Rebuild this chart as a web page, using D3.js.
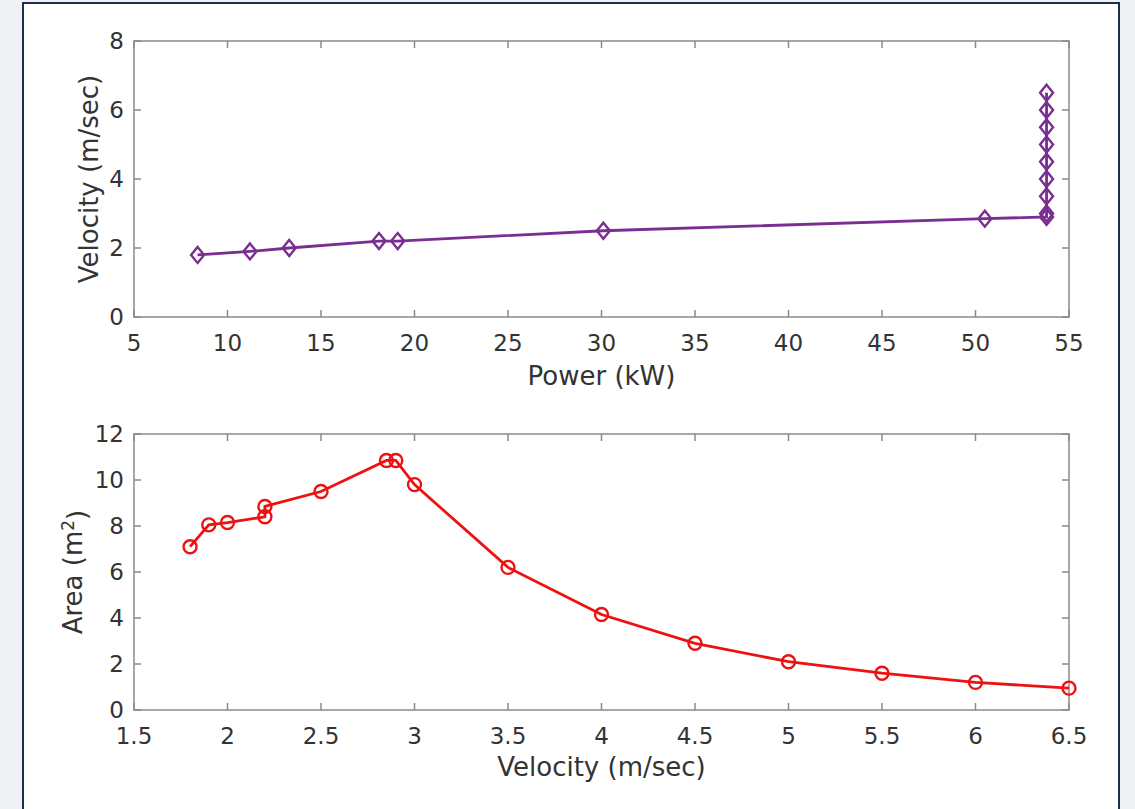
<!DOCTYPE html>
<html>
<head>
<meta charset="utf-8">
<title>power velocity area</title>
<script src="https://d3js.org/d3.v7.min.js"></script>
<style>
  body { margin: 0; background: #eff1f5; }
  #frame { position: absolute; left: 22px; top: 2px; width: 1098px; height: 820px;
           background: #fff; border: 2px solid #1c2e4e; box-sizing: border-box; }
  svg { position: absolute; left: 0; top: 0; }
  text { font-family: "DejaVu Sans", Verdana, sans-serif; fill: #333; }
</style>
</head>
<body>
<div id="frame"></div>
<div id="wrapper"></div>
<script>
// power (kW) vs velocity (m/sec)
const power = [8.4, 11.2, 13.3, 18.1, 19.1, 30.1, 50.5, 53.8, 53.8, 53.8, 53.8, 53.8, 53.8, 53.8, 53.8, 53.8];
const velocity = [1.8, 1.9, 2.0, 2.2, 2.2, 2.5, 2.85, 2.9, 3.0, 3.5, 4.0, 4.5, 5.0, 5.5, 6.0, 6.5];
const area = [7.1, 8.05, 8.15, 8.4, 8.85, 9.5, 10.85, 10.85, 9.8, 6.2, 4.15, 2.9, 2.1, 1.6, 1.2, 0.95];

const powerTicks = [5, 10, 15, 20, 25, 30, 35, 40, 45, 50, 55];
const velTicksTop = [0, 2, 4, 6, 8];
const velTicksBottom = [1.5, 2, 2.5, 3, 3.5, 4, 4.5, 5, 5.5, 6, 6.5];
const areaTicks = [0, 2, 4, 6, 8, 10, 12];

const width = 1135, height = 809;
const svg = d3.select("#wrapper").append("svg").attr("width", width).attr("height", height);

const left = 134, right = 1069;
const axisColor = "#8a8a8a";
const fontSize = 23;
const labelSize = 26;

function drawAxes(g, xScale, yScale, xTicks, yTicks, xFmt, yFmt) {
  const [x0, x1] = xScale.range();
  const [y0, y1] = yScale.range();
  const tl = 7;
  // box
  g.append("rect").attr("x", x0).attr("y", y1).attr("width", x1 - x0).attr("height", y0 - y1)
    .attr("fill", "none").attr("stroke", axisColor).attr("stroke-width", 1.5);
  xTicks.forEach(t => {
    const x = xScale(t);
    g.append("line").attr("x1", x).attr("x2", x).attr("y1", y0).attr("y2", y0 - tl).attr("stroke", axisColor).attr("stroke-width", 1.5);
    g.append("line").attr("x1", x).attr("x2", x).attr("y1", y1).attr("y2", y1 + tl).attr("stroke", axisColor).attr("stroke-width", 1.5);
    g.append("text").attr("x", x).attr("y", y0 + 34).attr("text-anchor", "middle")
      .style("font-size", fontSize + "px").text(xFmt(t));
  });
  yTicks.forEach(t => {
    const y = yScale(t);
    g.append("line").attr("x1", x0).attr("x2", x0 + tl).attr("y1", y).attr("y2", y).attr("stroke", axisColor).attr("stroke-width", 1.5);
    g.append("line").attr("x1", x1).attr("x2", x1 - tl).attr("y1", y).attr("y2", y).attr("stroke", axisColor).attr("stroke-width", 1.5);
    g.append("text").attr("x", x0 - 10).attr("y", y).attr("dy", "0.36em").attr("text-anchor", "end")
      .style("font-size", fontSize + "px").text(yFmt(t));
  });
}

// ---- top: velocity vs power
const xTop = d3.scaleLinear().domain([5, 55]).range([left, right]);
const yTop = d3.scaleLinear().domain([0, 8]).range([317, 41]);
const gTop = svg.append("g");
drawAxes(gTop, xTop, yTop, powerTicks, velTicksTop, d3.format("d"), d3.format("d"));

const purple = "#7a2e91";
const topData = power.map((p, i) => ({ x: p, y: velocity[i] }));
gTop.append("path").attr("d", d3.line().x(d => xTop(d.x)).y(d => yTop(d.y))(topData))
  .attr("fill", "none").attr("stroke", purple).attr("stroke-width", 2.8);
gTop.selectAll(".dia").data(topData).join("path")
  .attr("d", d => {
    const cx = xTop(d.x), cy = yTop(d.y), w = 6.5, h = 8;
    return `M${cx},${cy - h}L${cx + w},${cy}L${cx},${cy + h}L${cx - w},${cy}Z`;
  })
  .attr("fill", "none").attr("stroke", purple).attr("stroke-width", 2.4);

gTop.append("text").attr("x", (left + right) / 2).attr("y", 385).attr("text-anchor", "middle")
  .style("font-size", labelSize + "px").text("Power (kW)");
gTop.append("text").attr("transform", `translate(98,179) rotate(-90)`).attr("text-anchor", "middle")
  .style("font-size", labelSize + "px").text("Velocity (m/sec)");

// ---- bottom: area vs velocity
const xBot = d3.scaleLinear().domain([1.5, 6.5]).range([left, right]);
const yBot = d3.scaleLinear().domain([0, 12]).range([710, 434]);
const gBot = svg.append("g");
drawAxes(gBot, xBot, yBot, velTicksBottom, areaTicks, d => String(d), d3.format("d"));

const red = "#ee1111";
const botData = velocity.map((v, i) => ({ x: v, y: area[i] }));
gBot.append("path").attr("d", d3.line().x(d => xBot(d.x)).y(d => yBot(d.y))(botData))
  .attr("fill", "none").attr("stroke", red).attr("stroke-width", 2.8);
gBot.selectAll(".circ").data(botData).join("circle")
  .attr("cx", d => xBot(d.x)).attr("cy", d => yBot(d.y)).attr("r", 6.5)
  .attr("fill", "none").attr("stroke", red).attr("stroke-width", 2.4);

gBot.append("text").attr("x", (left + right) / 2).attr("y", 776).attr("text-anchor", "middle")
  .style("font-size", labelSize + "px").text("Velocity (m/sec)");
const aLab = gBot.append("text").attr("transform", `translate(82,572) rotate(-90)`).attr("text-anchor", "middle")
  .style("font-size", labelSize + "px");
aLab.append("tspan").text("Area (m");
aLab.append("tspan").attr("dy", "-0.45em").style("font-size", "17px").text("2");
aLab.append("tspan").attr("dy", "0.45em").text(")");
</script>
</body>
</html>
